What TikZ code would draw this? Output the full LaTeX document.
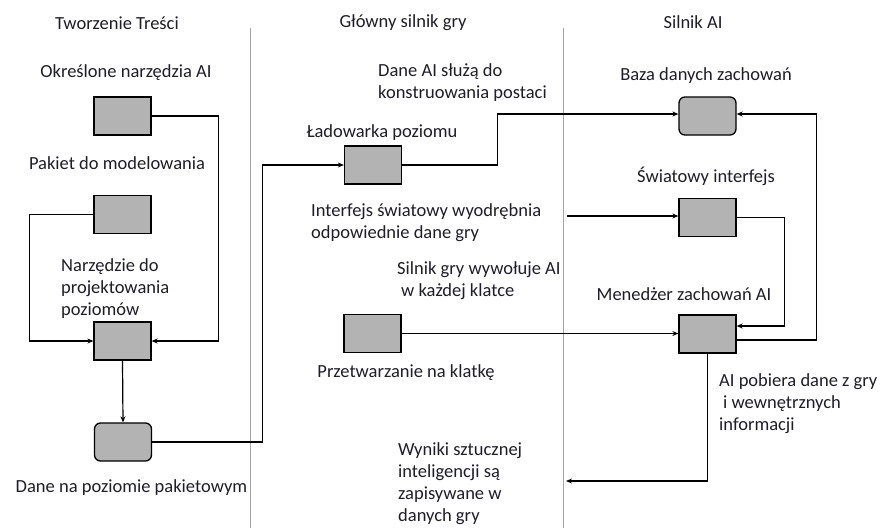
\documentclass[tikz,border=0pt]{standalone}
\usepackage{fontspec}
\setmainfont{Carlito}
\usetikzlibrary{arrows.meta}
\begin{document}
\begin{tikzpicture}[x=1pt,y=-1pt,
  box/.style={draw=black,line width=1.3pt,fill=boxgray,minimum width=57pt,minimum height=38pt,inner sep=0pt},
  rbox/.style={box,rounded corners=6pt},
  lbl/.style={inner sep=0pt,text=txt,font=\fontsize{18.5}{22}\selectfont},
  mlbl/.style={lbl,align=left,anchor=west},
  conn/.style={draw=black,line width=1.2pt},
  arr/.style={conn,-{Stealth[length=6pt,width=5pt]}},
  divider/.style={draw=gray!70,line width=1pt}
]
\definecolor{boxgray}{RGB}{179,179,179}
\definecolor{txt}{RGB}{30,30,40}
\useasboundingbox (0,0) rectangle (880,528);
\fill[white] (0,0) rectangle (880,528);

% dividers
\coordinate (d1t) at (250,28); \coordinate (d1b) at (250,528);
\coordinate (d2t) at (563,28); \coordinate (d2b) at (563,528);
\draw[divider] (d1t) -- (d1b);
\draw[divider] (d2t) -- (d2b);

% headings
\node[lbl] (h1) at (117,23) {Tworzenie Treści};
\node[lbl] (h2) at (403,23) {Główny silnik gry};
\node[lbl] (h3) at (693,22) {Silnik AI};

% left column
\node[lbl] (t1) at (126,73) {Określone narzędzia AI};
\node[box] (b1) at (122.5,116) {};
\node[lbl] (t2) at (117,163) {Pakiet do modelowania};
\node[box] (b2) at (122.5,214.5) {};
\node[mlbl] (t3) at (61,289) {Narzędzie do\\projektowania\\poziomów};
\node[box] (b3) at (122.5,341) {};
\node[rbox] (b4) at (123,442) {};
\node[lbl] (t4) at (131.5,488) {Dane na poziomie pakietowym};

% middle column
\node[mlbl] (t5) at (378,83) {Dane AI służą do\\konstruowania postaci};
\node[lbl] (t6) at (382,133) {Ładowarka poziomu};
\node[box] (lad) at (373,165) {};
\node[mlbl] (t7) at (311,222.5) {Interfejs światowy wyodrębnia\\odpowiednie dane gry};
\node[mlbl] (t8) at (397,280.5) {Silnik gry wywołuje AI\\\hspace*{4pt}w każdej klatce};
\node[box] (prz) at (372.5,333.5) {};
\node[lbl] (t9) at (406,373) {Przetwarzanie na klatkę};
\node[mlbl] (t10) at (398,484) {Wyniki sztucznej\\inteligencji są\\zapisywane w\\danych gry};

% right column
\node[lbl] (t11) at (706,76) {Baza danych zachowań};
\node[rbox] (baza) at (707.5,116) {};
\node[lbl] (t12) at (706,176) {Światowy interfejs};
\node[box] (sw) at (707.5,217.5) {};
\node[lbl] (t13) at (684,294) {Menedżer zachowań AI};
\node[box] (men) at (707.5,334) {};
\node[mlbl] (t14) at (719,404) {AI pobiera dane z gry\\\hspace*{4pt}i wewnętrznych\\informacji};

% free ends
\coordinate (swin) at (567,216);
\coordinate (wout) at (566,481);

% connectors
\draw[arr] (b1.east) -- ++(67,0) |- (b3.east);
\draw[arr] (b2.west) -- ++(-64,0) |- (b3.west);
\draw[arr] (b3.south) -- (b4.north);
\draw[arr] (b4.east) -- ++(110,0) |- (lad.west);
\draw[arr] (lad.east) -- ++(95,0) |- ([yshift=2pt]baza.west);
\draw[arr] (swin) -- (swin -| sw.west);
\draw[arr] (prz.east) -- (prz.east -| men.west);
\draw[arr] (men.south) |- (wout);
\draw[arr] ([yshift=-6pt]men.east) -- ++(80,0) |- ([yshift=2pt]baza.east);
\draw[arr] (sw.east) -- ++(48,0) |- ([yshift=8pt]men.east);
\end{tikzpicture}
\end{document}
